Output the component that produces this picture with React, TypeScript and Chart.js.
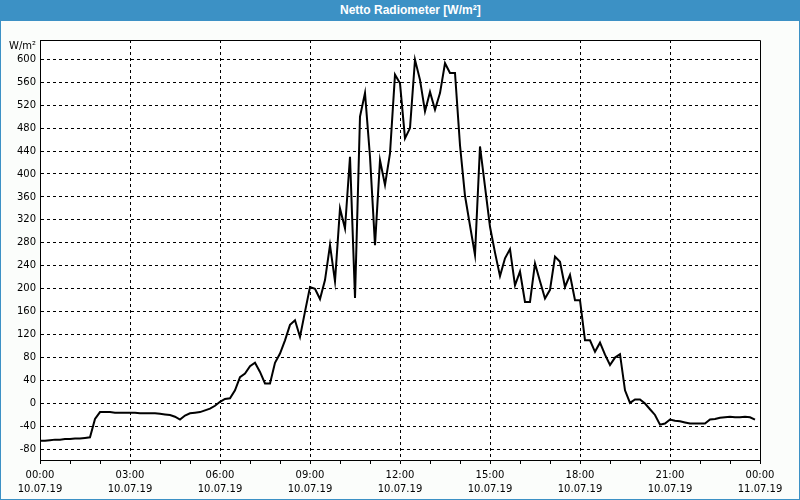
import React, { useEffect, useRef } from "react";
import { Chart, registerables } from "chart.js";

Chart.register(...registerables);

const chartTitle = "Netto Radiometer [W/m²]";
const unitLabel = "W/m²";

const yTicks = [-80, -40, 0, 40, 80, 120, 160, 200, 240, 280, 320, 360, 400, 440, 480, 520, 560, 600];
const xTickTimes = ["00:00", "03:00", "06:00", "09:00", "12:00", "15:00", "18:00", "21:00", "00:00"];
const xTickDates = ["10.07.19", "10.07.19", "10.07.19", "10.07.19", "10.07.19", "10.07.19", "10.07.19", "10.07.19", "11.07.19"];

// 10-minute samples from 00:00 to 23:50 (W/m²)
const netRadiation = [
  -65, -65, -64, -63, -63, -62, -62, -61, -61, -60, -59, -27,
  -15, -15, -15, -16, -16, -16, -16, -16, -17, -17, -17, -17,
  -18, -19, -20, -23, -28, -21, -17, -16, -15, -12, -9, -4,
  3, 8, 9, 23, 46, 52, 65, 71, 55, 35, 35, 71,
  87, 110, 137, 145, 116, 160, 203, 200, 182, 215, 276, 213,
  340, 305, 430, 184, 500, 541, 430, 276, 424, 381, 436, 573,
  558, 462, 480, 599, 564, 509, 543, 512, 541, 593, 576, 576,
  450, 362, 310, 259, 448, 378, 308, 263, 222, 253, 269, 206,
  230, 177, 177, 244, 213, 183, 198, 256, 247, 203, 224, 180,
  180, 110, 110, 90, 106, 85, 67, 80, 86, 23, 1, 7,
  7, 0, -10, -20, -37, -35, -28, -30, -31, -33, -35, -35,
  -35, -35, -28, -27, -25, -24, -23, -24, -24, -23, -24, -28,
];
const sampleStepMinutes = 10;
const dayMinutes = 1440;
const majorStepMinutes = 180;

const FONT = "'DejaVu Sans', sans-serif";

export default function App() {
  const canvasRef = useRef<HTMLCanvasElement | null>(null);

  useEffect(() => {
    document.body.style.margin = "0";
    const canvas = canvasRef.current;
    if (!canvas) return;

    const framePlugin = {
      id: "frame",
      beforeDraw(chart: any) {
        const { ctx, chartArea } = chart;
        ctx.save();
        ctx.fillStyle = "#fbfdfb";
        ctx.fillRect(0, 0, chart.width, chart.height);
        ctx.fillStyle = "#ffffff";
        ctx.fillRect(chartArea.left, chartArea.top, chartArea.right - chartArea.left, chartArea.bottom - chartArea.top);
        ctx.restore();
      },
      afterDraw(chart: any) {
        const { ctx, chartArea } = chart;
        ctx.save();
        ctx.strokeStyle = "#000000";
        ctx.lineWidth = 1;
        ctx.beginPath();
        ctx.moveTo(chartArea.left, Math.round(chartArea.top) + 0.5);
        ctx.lineTo(Math.round(chartArea.right) + 0.5, Math.round(chartArea.top) + 0.5);
        ctx.lineTo(Math.round(chartArea.right) + 0.5, chartArea.bottom);
        ctx.stroke();
        ctx.fillStyle = "#000000";
        ctx.font = `10px ${FONT}`;
        ctx.textAlign = "right";
        ctx.textBaseline = "middle";
        ctx.fillText(unitLabel, chartArea.left - 4, chartArea.top + 6);
        ctx.restore();
      },
    };

    const chart = new Chart(canvas, {
      type: "line",
      data: {
        datasets: [
          {
            data: netRadiation.map((v, i) => ({ x: i * sampleStepMinutes, y: v })),
            borderColor: "#000000",
            borderWidth: 2,
            pointRadius: 0,
            tension: 0,
            fill: false,
          },
        ],
      },
      options: {
        responsive: false,
        animation: false,
        devicePixelRatio: 1,
        layout: { padding: { left: 0, right: 40, top: 40, bottom: 0 } },
        plugins: { legend: { display: false }, tooltip: { enabled: false }, title: { display: false } },
        scales: {
          x: {
            type: "linear",
            min: 0,
            max: dayMinutes,
            afterFit(scale: any) {
              scale.height = 40;
            },
            ticks: {
              stepSize: 60,
              autoSkip: false,
              maxRotation: 0,
              minRotation: 0,
              padding: 4,
              color: "#000000",
              font: { family: FONT, size: 10, lineHeight: 1.45 },
              callback(value: any) {
                const v = Number(value);
                if (v % majorStepMinutes !== 0) return "";
                const k = v / majorStepMinutes;
                return [xTickTimes[k], xTickDates[k]];
              },
            },
            grid: {
              drawTicks: true,
              tickLength: 4,
              tickColor: "#000000",
              lineWidth: 1,
              color(ctx: any) {
                const v = ctx.tick ? ctx.tick.value : 0;
                return v % majorStepMinutes === 0 && v !== 0 && v !== dayMinutes ? "#000000" : "rgba(0,0,0,0)";
              },
            },
            border: { display: true, color: "#000000", width: 1, dash: [3, 3] },
          },
          y: {
            type: "linear",
            min: -98.5,
            max: 633.5,
            afterFit(scale: any) {
              scale.width = 40;
            },
            afterBuildTicks(scale: any) {
              scale.ticks = yTicks.map((v) => ({ value: v }));
            },
            ticks: {
              padding: 4,
              color: "#000000",
              font: { family: FONT, size: 10 },
            },
            grid: {
              drawTicks: false,
              color: "#000000",
              lineWidth: 1,
            },
            border: { display: true, color: "#000000", width: 1, dash: [3, 3] },
          },
        },
      },
      plugins: [framePlugin],
    } as any);

    return () => chart.destroy();
  }, []);

  return (
    <div
      style={{
        position: "absolute",
        left: 0,
        top: 0,
        width: 800,
        height: 500,
        overflow: "hidden",
      }}
    >
      <canvas ref={canvasRef} width={800} height={500} style={{ position: "absolute", left: 0, top: 0, width: 800, height: 500 }} />
      <div
        style={{
          position: "absolute",
          left: 0,
          top: 0,
          width: 800,
          height: 21,
          background: "#3c91c5",
        }}
      >
        <span
          style={{
            position: "absolute",
            left: 340,
            top: 3,
            color: "#ffffff",
            fontFamily: "'Liberation Sans', Arial, sans-serif",
            fontWeight: "bold",
            fontSize: 12,
            lineHeight: "14px",
            whiteSpace: "nowrap",
          }}
        >
          {chartTitle}
        </span>
      </div>
      <div
        style={{
          position: "absolute",
          left: 0,
          top: 0,
          width: 800,
          height: 500,
          boxSizing: "border-box",
          border: "1px solid #3c91c5",
          pointerEvents: "none",
        }}
      />
    </div>
  );
}
